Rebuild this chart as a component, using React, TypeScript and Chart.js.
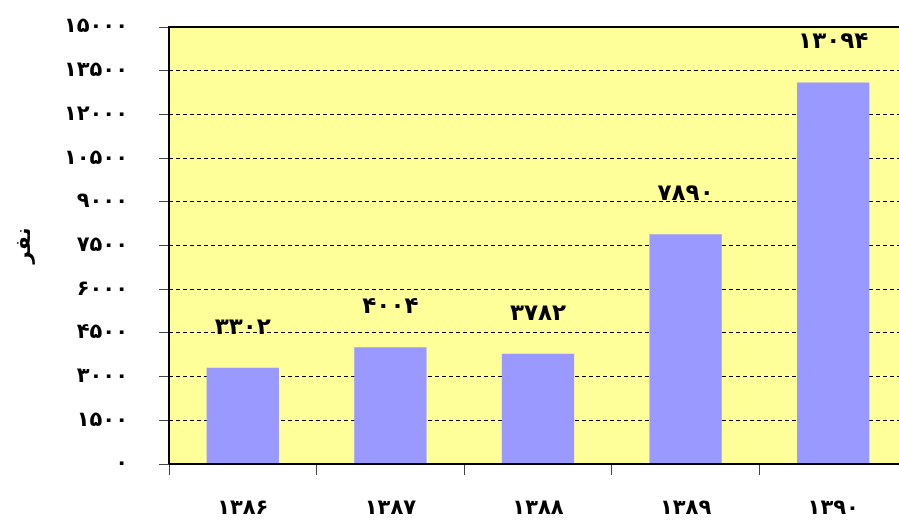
import React, { useEffect, useRef } from "react";
import { Chart, registerables } from "chart.js";

Chart.register(...registerables);

const categories = ["۱۳۸۶", "۱۳۸۷", "۱۳۸۸", "۱۳۸۹", "۱۳۹۰"];
const values = [3302, 4004, 3782, 7890, 13094];
const valueLabels = ["۳۳۰۲", "۴۰۰۴", "۳۷۸۲", "۷۸۹۰", "۱۳۰۹۴"];
const yTickLabels = ["۰", "۱۵۰۰", "۳۰۰۰", "۴۵۰۰", "۶۰۰۰", "۷۵۰۰", "۹۰۰۰", "۱۰۵۰۰", "۱۲۰۰۰", "۱۳۵۰۰", "۱۵۰۰۰"];
const yTitle = "نفر";

const FONT = "'DejaVu Sans'";
const FS = 21;
const VFS = 23;

const plotPlugin = {
  id: "plotDecor",
  beforeDraw(chart: any) {
    const { ctx, chartArea: a } = chart;
    ctx.save();
    ctx.fillStyle = "#FFFF99";
    ctx.fillRect(a.left, a.top, a.right - a.left, a.bottom - a.top);
    ctx.restore();
  },
  afterDatasetsDraw(chart: any) {
    const { ctx, chartArea: a } = chart;
    ctx.save();
    ctx.strokeStyle = "#000";
    ctx.lineWidth = 2;
    ctx.beginPath();
    ctx.moveTo(a.left, a.bottom);
    ctx.lineTo(a.left, a.top);
    ctx.lineTo(a.right + 5, a.top);
    ctx.stroke();
    ctx.beginPath();
    ctx.moveTo(a.left, a.bottom);
    ctx.lineTo(a.right + 5, a.bottom);
    ctx.stroke();
    const meta = chart.getDatasetMeta(0);
    ctx.fillStyle = "#000";
    ctx.font = `bold ${VFS}px ${FONT}`;
    ctx.textAlign = "center";
    ctx.textBaseline = "middle";
    meta.data.forEach((bar: any, i: number) => {
      ctx.fillText(valueLabels[i], bar.x, bar.y - 40);
    });
    ctx.restore();
  },
};

export default function App() {
  const ref = useRef<HTMLCanvasElement>(null);
  useEffect(() => {
    if (!ref.current) return;
    const chart = new Chart(ref.current, {
      type: "bar",
      data: {
        labels: categories,
        datasets: [
          {
            data: values,
            backgroundColor: "#9999FF",
            borderWidth: 0,
            categoryPercentage: 1,
            barPercentage: 0.49,
          },
        ],
      },
      plugins: [plotPlugin],
      options: {
        responsive: false,
        animation: false,
        layout: { padding: { top: 27, right: 0, left: 0, bottom: 0 } },
        plugins: { legend: { display: false }, tooltip: { enabled: false } },
        scales: {
          x: {
            grid: {
              offset: true,
              drawOnChartArea: false,
              drawTicks: true,
              tickLength: 11,
              color: "#444",
              lineWidth: 1,
            },
            border: { display: false },
            ticks: {
              color: "#000",
              padding: 21,
              font: { family: FONT, size: FS, weight: "bold" },
              maxRotation: 0,
            },
            afterFit(scale: any) {
              scale.height = 58;
              scale.paddingLeft = 0;
              scale.paddingRight = 0;
            },
          },
          y: {
            min: 0,
            max: 15000,
            ticks: {
              stepSize: 1500,
              color: "#000",
              padding: 31,
              font: { family: FONT, size: FS, weight: "bold" },
              callback: (v: any) => yTickLabels[Math.round(Number(v) / 1500)],
            },
            grid: {
              color: "#000",
              lineWidth: 1,
              tickLength: 10,
              tickColor: "#444",
              tickBorderDash: [],
            },
            border: { display: false, dash: [4, 3] },
            title: {
              display: true,
              text: yTitle,
              color: "#000",
              font: { family: FONT, size: FS, weight: "bold" },
              padding: { top: 12, bottom: 0 },
            },
            afterFit(scale: any) {
              scale.width = 169;
              scale.paddingTop = 0;
              scale.paddingBottom = 0;
            },
          },
        },
      },
    });
    return () => chart.destroy();
  }, []);
  return (
    <div style={{ position: "fixed", left: 0, top: 0, width: 899, height: 522, overflow: "hidden", background: "#fff" }}>
      <canvas ref={ref} width={907} height={522} />
    </div>
  );
}
